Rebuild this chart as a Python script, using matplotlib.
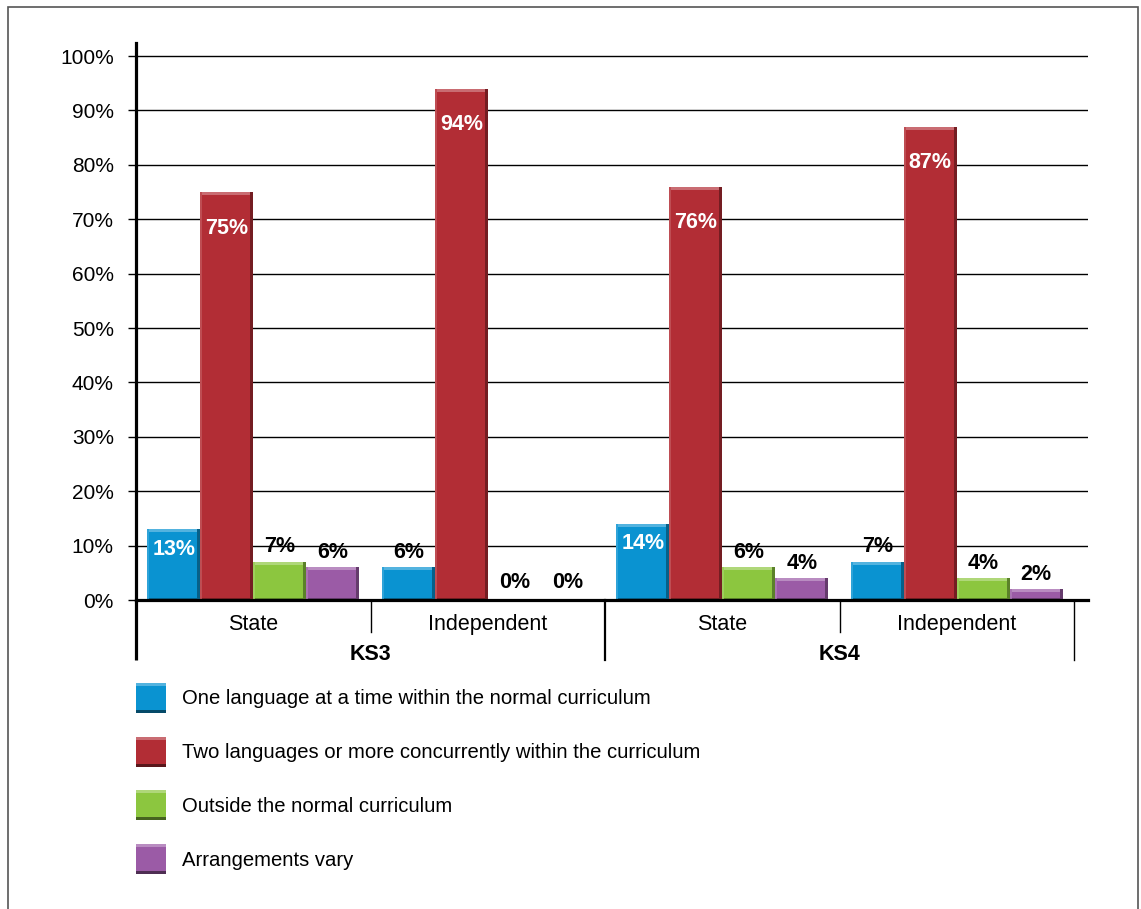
import matplotlib
matplotlib.use("Agg")
import matplotlib.pyplot as plt
from matplotlib.patches import Rectangle
import numpy as np

plt.rcParams['font.family'] = ['Liberation Sans', 'DejaVu Sans']

# Data
stages = ["KS3", "KS4"]
sectors = ["State", "Independent", "State", "Independent"]
series_names = [
    "One language at a time within the normal curriculum",
    "Two languages or more concurrently within the curriculum",
    "Outside the normal curriculum",
    "Arrangements vary",
]
one_language = [13, 6, 14, 7]
two_languages = [75, 94, 76, 87]
outside_curriculum = [7, 0, 6, 4]
arrangements_vary = [6, 0, 4, 2]
series_values = [one_language, two_languages, outside_curriculum, arrangements_vary]
colors = ["#0a93d1", "#b22d35", "#8cc63f", "#9b5ba6"]
y_ticks = list(range(0, 101, 10))

W, H = 1141, 909
fig = plt.figure(figsize=(W / 100, H / 100), dpi=100)
ax = fig.add_axes([136 / W, 1 - 600 / H, (1088 - 136) / W, (600 - 43) / H])

n_groups = len(sectors)
x = np.arange(n_groups)
bar_w = 0.226
offsets = (np.arange(4) - 1.5) * bar_w


def shade(c, f):
    rgb = np.array(matplotlib.colors.to_rgb(c))
    if f > 0:
        rgb = rgb + (1 - rgb) * f
    else:
        rgb = rgb * (1 + f)
    return tuple(np.clip(rgb, 0, 1))


px_y = 102.4 / (600 - 43)  # data units per pixel vertically
px_x = 4.0 / (1074 - 136)

for s, (vals, col) in enumerate(zip(series_values, colors)):
    bars = ax.bar(x + offsets[s], vals, width=bar_w, color=col, zorder=3,
                  linewidth=0)
    for b, v in zip(bars, vals):
        if v <= 0:
            continue
        bx, bw, bh = b.get_x(), b.get_width(), b.get_height()
        # bevel: light top, dark right and bottom edges
        edge = min(3 * px_y, bh / 3)
        ax.add_patch(Rectangle((bx, bh - edge), bw, edge,
                               color=shade(col, 0.3), lw=0, zorder=4))
        ax.add_patch(Rectangle((bx + bw - 3 * px_x, 0), 3 * px_x, bh,
                               color=shade(col, -0.35), lw=0, zorder=4))
        ax.add_patch(Rectangle((bx, 0), bw, min(2 * px_y, bh / 3),
                               color=shade(col, -0.3), lw=0, zorder=4))
        ax.add_patch(Rectangle((bx, 0), 2 * px_x, bh,
                               color=shade(col, 0.15), lw=0, zorder=4))
    for b, v in zip(bars, vals):
        cx = b.get_x() + b.get_width() / 2
        if v >= 10:
            dy = -36 if s == 1 else -20
            ax.annotate(f"{v}%", (cx, v), xytext=(0, dy * 0.72),
                        textcoords="offset points", ha="center", va="center",
                        color="white", fontsize=15.5, fontweight="bold",
                        zorder=5)
        else:
            dy = 17 if v == 0 else 15
            ax.annotate(f"{v}%", (cx, v), xytext=(0, dy * 0.72),
                        textcoords="offset points", ha="center", va="center",
                        color="black", fontsize=15.5, fontweight="bold",
                        zorder=5)

ax.set_xlim(-0.5, 3.5 + 14 * px_x)
ax.set_ylim(0, 102.4)
ax.set_yticks(y_ticks)
ax.set_yticklabels([f"{t}%" for t in y_ticks], fontsize=15)
ax.set_xticks([])
ax.tick_params(axis="y", length=6, width=1, pad=10, color="black")
ax.yaxis.grid(True, color="black", linewidth=1)
ax.set_axisbelow(True)
for side in ["top", "right"]:
    ax.spines[side].set_visible(False)
ax.spines["left"].set_linewidth(2.3)
ax.spines["bottom"].set_linewidth(2.3)
ax.spines["bottom"].set_zorder(6)

# category axis below the plot
short = -32 * px_y
long_ = -60 * px_y
ax.plot([-0.5, -0.5], [0, long_], color="black", lw=2.3, clip_on=False,
        solid_capstyle="butt")
for xs in [0.5, 2.5]:
    ax.plot([xs, xs], [0, short], color="black", lw=1, clip_on=False)
ax.plot([1.5, 1.5], [0, long_], color="black", lw=1.6, clip_on=False)
ax.plot([3.5, 3.5], [0, long_], color="black", lw=1, clip_on=False)
for i, name in enumerate(sectors):
    ax.text(i, -30 * px_y, name, ha="center", va="baseline", fontsize=15.5,
            clip_on=False)
for j, st in enumerate(stages):
    ax.text(2 * j + 0.5, -59.5 * px_y, st, ha="center", va="baseline",
            fontsize=15.5, fontweight="bold", clip_on=False)

# legend
for k, (name, col) in enumerate(zip(series_names, colors)):
    yc = 698 + k * 53.7
    fig.add_artist(Rectangle((136 / W, 1 - (yc + 15) / H), 30 / W, 30 / H,
                             transform=fig.transFigure, color=col, lw=0))
    fig.add_artist(Rectangle((136 / W, 1 - (yc + 15) / H), 30 / W, 3 / H,
                             transform=fig.transFigure, color=shade(col, -0.5),
                             lw=0))
    fig.add_artist(Rectangle((136 / W, 1 - (yc - 12) / H), 30 / W, 3 / H,
                             transform=fig.transFigure, color=shade(col, 0.3),
                             lw=0))
    fig.text(182 / W, 1 - (yc + 6.5) / H, name, ha="left", va="baseline",
             fontsize=14.6)

# outer frame
fig.add_artist(Rectangle((8 / W, -0.01), (1138 - 8) / W, 1 - 7 / H + 0.01,
                         transform=fig.transFigure, fill=False,
                         edgecolor="#555555", lw=1.2))

fig.savefig("out.png", dpi=100)
